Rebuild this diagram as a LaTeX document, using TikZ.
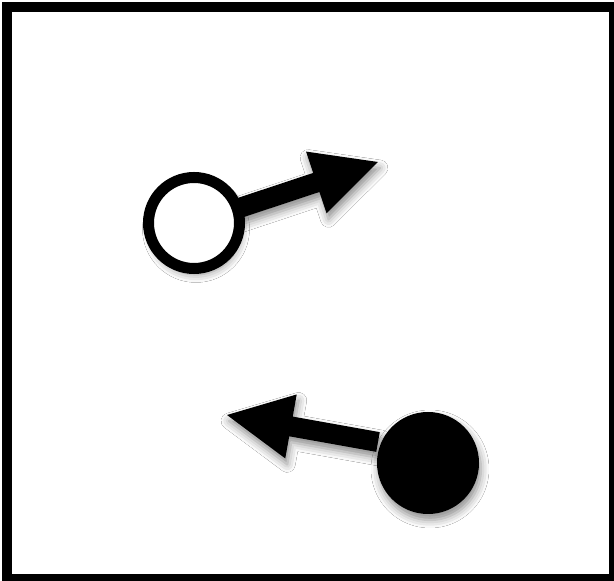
\documentclass[tikz,border=0pt]{standalone}
\usetikzlibrary{calc,shadows.blur}
\tikzset{
  shad/.style={blur shadow={shadow xshift=2pt, shadow yshift=-6pt, shadow blur radius=8pt, shadow opacity=45}},
  frame/.style={draw=black, line width=10pt},
  opendot/.style={circle, draw=black, fill=white, line width=11pt, minimum size=91pt, inner sep=0pt, shad},
  filldot/.style={circle, fill=black, minimum size=102pt, inner sep=0pt, shad},
  fatarrow/.style={fill=black, shad}
}
\newcommand{\fatarr}[2]{%
  \path[fatarrow]
    ($(#1)!10pt!90:(#2)$) --
    ($($(#2)!65pt!(#1)$)!10pt!90:(#2)$) --
    ($($(#2)!65pt!(#1)$)!32.5pt!90:(#2)$) --
    (#2) --
    ($($(#2)!65pt!(#1)$)!32.5pt!-90:(#2)$) --
    ($($(#2)!65pt!(#1)$)!10pt!-90:(#2)$) --
    ($(#1)!10pt!-90:(#2)$) -- cycle;}
\begin{document}
\begin{tikzpicture}[x=1pt,y=1pt]
\useasboundingbox (0,0) rectangle (614,581);
\fill[white] (0,0) rectangle (614,581);
\draw[frame] (7,574) rectangle (614,2);
% open circle with arrow
\coordinate (a1) at (194,358);
\coordinate (t1) at (378,419);
\fatarr{a1}{t1}
\node[opendot] (c1) at (a1) {};
% filled circle with arrow
\coordinate (a2) at (378,139);
\coordinate (t2) at (227,166);
\fatarr{a2}{t2}
\node[filldot] (c2) at (428,118) {};
\end{tikzpicture}
\end{document}
